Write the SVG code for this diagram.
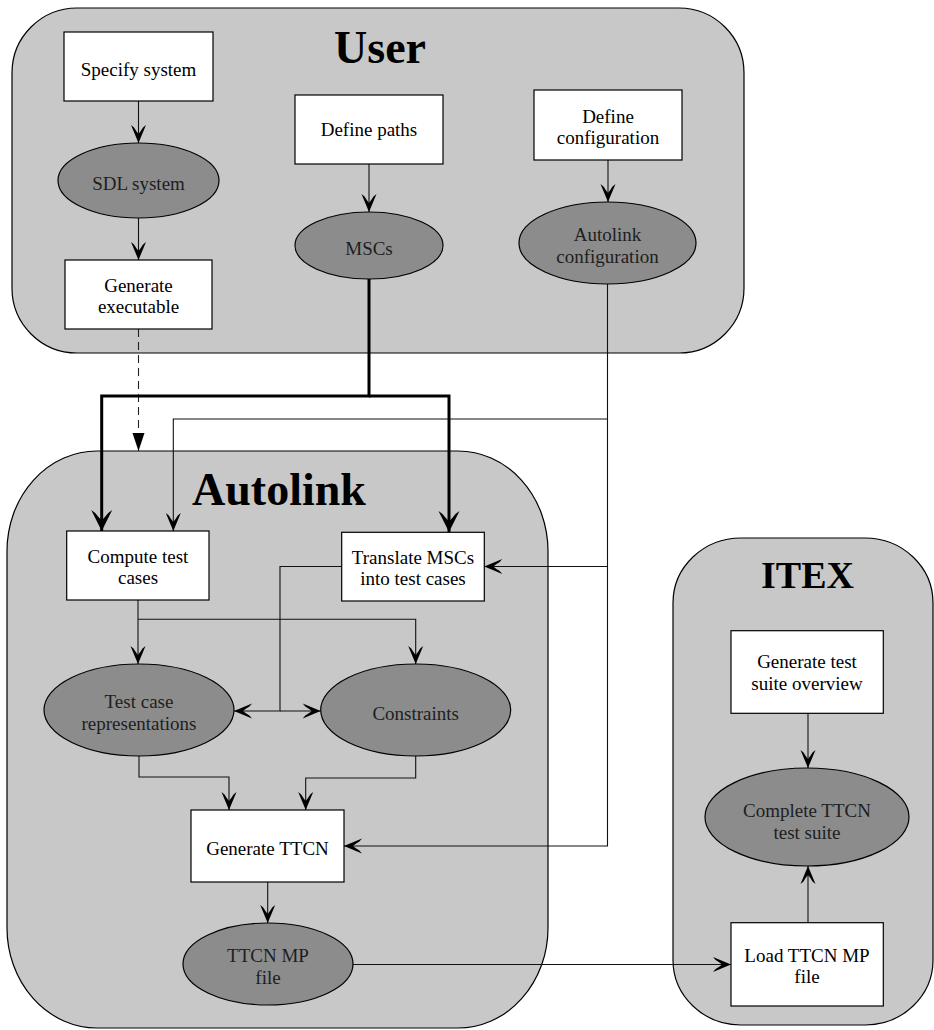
<svg xmlns="http://www.w3.org/2000/svg" width="934" height="1030" viewBox="0 0 934 1030">
<style>
.cont{fill:#c8c8c8;stroke:#000;stroke-width:1.2}
.box{fill:#fff;stroke:#000;stroke-width:1.2}
.ell{fill:#8c8c8c;stroke:#000;stroke-width:1.2}
.t{font-family:"Liberation Serif","Times New Roman",serif;font-size:19px;fill:#000;text-anchor:middle}
.te{font-family:"Liberation Serif","Times New Roman",serif;font-size:19px;fill:#1e1e1e;text-anchor:middle}
.title{font-family:"Liberation Serif","Times New Roman",serif;font-weight:bold;fill:#000;text-anchor:middle}
.c{fill:none;stroke:#111;stroke-width:1.1}
.ck{fill:none;stroke:#000;stroke-width:3}
.cd{fill:none;stroke:#222;stroke-width:1.1;stroke-dasharray:8,5}
</style>
<defs>
<marker id="a" markerUnits="userSpaceOnUse" markerWidth="20" markerHeight="16" refX="18" refY="7.5" orient="auto" overflow="visible">
<path d="M18,7.5 L0,0 L2.6,3 Q7,5.6 9,7.5 Q7,9.4 2.6,12 L0,15 Z" fill="#000"/>
</marker>
<marker id="ak" markerUnits="userSpaceOnUse" markerWidth="24" markerHeight="22" refX="21" refY="10.5" orient="auto" overflow="visible">
<path d="M21,10.5 L0,0 L3,4 Q8,8 10.5,10.5 Q8,13 3,17 L0,21 Z" fill="#000"/>
</marker>
<marker id="af" markerUnits="userSpaceOnUse" markerWidth="20" markerHeight="14" refX="18" refY="6" orient="auto" overflow="visible">
<path d="M18,6 L0,0 L0,12 Z" fill="#000"/>
</marker>
</defs>

<g id="containers">
<g id="user-area">
<rect class="cont" x="12" y="8" width="732" height="345" rx="65" ry="65"/>
<text class="title" x="380" y="63" font-size="46">User</text>
</g>
<g id="autolink-area">
<rect class="cont" x="7" y="451" width="541" height="577" rx="90" ry="100"/>
<text class="title" x="279" y="505" font-size="46">Autolink</text>
</g>
<g id="itex-area">
<rect class="cont" x="673" y="538" width="260" height="487" rx="68" ry="65"/>
<text class="title" x="807.5" y="588" font-size="38">ITEX</text>
</g>
</g>

<g id="connectors">
<path class="c" d="M138.5,101 V143" marker-end="url(#a)"/>
<path class="c" d="M138.5,218 V260" marker-end="url(#a)"/>
<path class="c" d="M369,164 V212" marker-end="url(#a)"/>
<path class="c" d="M608,160 V202" marker-end="url(#a)"/>
<path class="cd" d="M138.5,329 V451" marker-end="url(#af)"/>
<path class="ck" d="M369,279 V396 H101.7 V531" marker-end="url(#ak)"/>
<path class="ck" d="M369,396 H449 V532" marker-end="url(#ak)"/>
<path class="c" d="M607.5,284 V846 H344" marker-end="url(#a)"/>
<path class="c" d="M607.5,419 H173.3 V531" marker-end="url(#a)"/>
<path class="c" d="M607.5,566.5 H484.3" marker-end="url(#a)"/>
<path class="c" d="M341.7,566.5 H280 V711 H234" marker-end="url(#a)"/>
<path class="c" d="M280,711 H320.7" marker-end="url(#a)"/>
<path class="c" d="M138,600 V664" marker-end="url(#a)"/>
<path class="c" d="M138,619.3 H415.7 V664" marker-end="url(#a)"/>
<path class="c" d="M139,756 V777 H229 V810" marker-end="url(#a)"/>
<path class="c" d="M415.7,756 V778 H305.7 V810" marker-end="url(#a)"/>
<path class="c" d="M267.7,882 V923" marker-end="url(#a)"/>
<path class="c" d="M352.7,964.5 H731" marker-end="url(#a)"/>
<path class="c" d="M808,713.3 V768" marker-end="url(#a)"/>
<path class="c" d="M808,922.7 V866" marker-end="url(#a)"/>
</g>

<g id="specify-system">
<rect class="box" x="64" y="32" width="149" height="69"/>
<text class="t" x="138.5" y="76">Specify system</text>
</g>
<g id="sdl-system">
<ellipse class="ell" cx="138.5" cy="180.5" rx="80.5" ry="37.5"/>
<text class="te" x="138.5" y="190">SDL system</text>
</g>
<g id="generate-executable">
<rect class="box" x="65" y="260" width="147" height="69"/>
<text class="t" x="138.5" y="292">Generate</text>
<text class="t" x="138.5" y="313">executable</text>
</g>
<g id="define-paths">
<rect class="box" x="295" y="95" width="148" height="69"/>
<text class="t" x="369" y="136">Define paths</text>
</g>
<g id="mscs">
<ellipse class="ell" cx="369" cy="245.5" rx="74" ry="33.5"/>
<text class="te" x="369" y="255">MSCs</text>
</g>
<g id="define-configuration">
<rect class="box" x="534" y="90" width="148" height="70"/>
<text class="t" x="608" y="123">Define</text>
<text class="t" x="608" y="144">configuration</text>
</g>
<g id="autolink-configuration">
<ellipse class="ell" cx="607.5" cy="243" rx="88.5" ry="41"/>
<text class="te" x="607.5" y="241">Autolink</text>
<text class="te" x="607.5" y="263">configuration</text>
</g>
<g id="compute-test-cases">
<rect class="box" x="66.7" y="531" width="142.3" height="69"/>
<text class="t" x="138" y="562.5">Compute test</text>
<text class="t" x="138" y="584">cases</text>
</g>
<g id="translate-mscs">
<rect class="box" x="341.7" y="532.3" width="142.6" height="68.7"/>
<text class="t" x="413" y="564">Translate MSCs</text>
<text class="t" x="413" y="585">into test cases</text>
</g>
<g id="test-case-representations">
<ellipse class="ell" cx="139" cy="710" rx="95" ry="46"/>
<text class="te" x="139" y="708">Test case</text>
<text class="te" x="139" y="730">representations</text>
</g>
<g id="constraints">
<ellipse class="ell" cx="415.7" cy="710" rx="95" ry="46"/>
<text class="te" x="415.7" y="720">Constraints</text>
</g>
<g id="generate-ttcn">
<rect class="box" x="191" y="810" width="153" height="72"/>
<text class="t" x="267.5" y="855">Generate TTCN</text>
</g>
<g id="ttcn-mp-file">
<ellipse class="ell" cx="268" cy="964" rx="85" ry="41"/>
<text class="te" x="268" y="962">TTCN MP</text>
<text class="te" x="268" y="984">file</text>
</g>
<g id="generate-test-suite-overview">
<rect class="box" x="731" y="630.7" width="152.3" height="82.6"/>
<text class="t" x="807" y="668">Generate test</text>
<text class="t" x="807" y="690">suite overview</text>
</g>
<g id="complete-ttcn-test-suite">
<ellipse class="ell" cx="807" cy="817" rx="102" ry="49"/>
<text class="te" x="807" y="817">Complete TTCN</text>
<text class="te" x="807" y="839">test suite</text>
</g>
<g id="load-ttcn-mp-file">
<rect class="box" x="731" y="922.7" width="152.3" height="83.3"/>
<text class="t" x="807" y="961.5">Load TTCN MP</text>
<text class="t" x="807" y="983">file</text>
</g>
</svg>
